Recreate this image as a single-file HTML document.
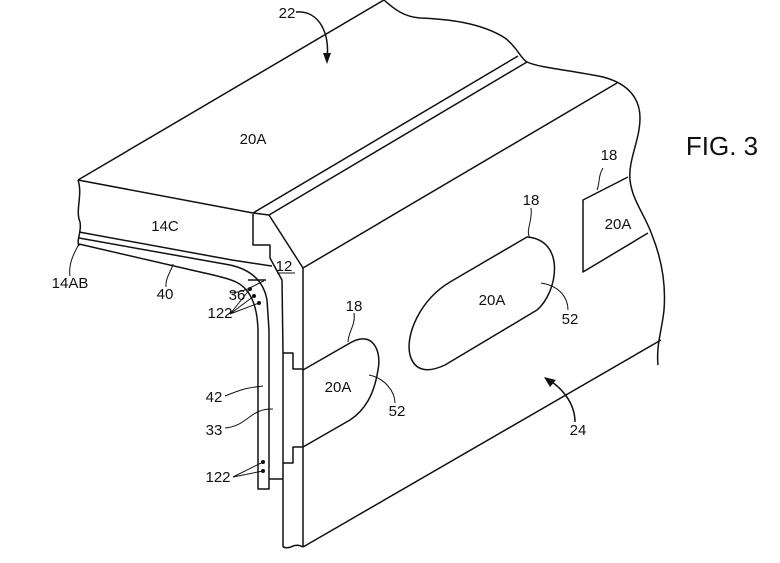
<!DOCTYPE html>
<html><head><meta charset="utf-8"><style>
html,body{margin:0;padding:0;background:#fff;}
svg{display:block}
text{font-family:"Liberation Sans",Arial,sans-serif;font-size:15px;fill:#111}
</style></head><body>
<svg width="780" height="563" viewBox="0 0 780 563" xmlns="http://www.w3.org/2000/svg">
<g fill="none" stroke="#111" stroke-width="1.5" stroke-linejoin="round">
<path d="M78,180 L384,0"/>
<path d="M384,0 C395,10 405,17 420,18 C445,19 480,22 505,38 C518,48 520,58 527,62 C540,68 570,70 603,77 C630,84 640,100 640,118 C640,140 628,160 630,180 C632,200 645,215 652,235 C662,260 666,285 664,310 C662,330 656,345 658,365"/>
<path d="M78,180 L253,213 L269,215 L303,268 L303,547"/>
<path d="M253,213 L518,56"/>
<path d="M269,215 L527,62"/>
<path d="M303,268 L617,83"/>
<path d="M303,547 L661,340"/>
<path d="M283,547 Q288,549 293,546 Q298,544 303,547"/>
<path d="M78,180 C83,195 75,210 80,222 C82,232 76,240 79,246"/>
<path d="M253,214 L253,245 L270,245 L270,258 L282,280 L283,353 L293,353 L293,369 L303,369"/>
<path d="M303,447 L293,447 L293,463 L283,463 L283,547"/>
<path d="M283,463 L283,353"/>
<path d="M269,479 L283,479"/>
<path d="M79,232 L232,260 Q258,264 272,266"/>
<path d="M79,238 L230,265 Q262,272 267,300 L269,330 L269,489 L258,489 L258,330 Q257,292 236,282 Q228,278 200,272 L79,244"/>
<path d="M248,280 L266,280"/>
<path d="M303,370 L350,343 C372,330 382,350 378,370 C374,395 365,410 350,420 L303,447"/>
<path d="M527,237 L450,282 C420,300 405,335 410,355 C415,373 430,372 445,365 L537,310 C558,292 566,240 527,237 Z"/>
<path d="M628,177 L583,200 L583,272 L648,233"/>
<path d="M296,12 C320,10 330,35 327,58"/>
<path d="M597,190 C600,183 598,176 603,168" stroke-width="1"/>
<path d="M531,208 C533,222 525,230 530,238" stroke-width="1"/>
<path d="M354,313 C356,325 348,332 348,342" stroke-width="1"/>
<path d="M541,283 C560,286 568,298 568,310" stroke-width="1"/>
<path d="M369,375 C385,378 395,392 395,403" stroke-width="1"/>
<path d="M575,422 C575,402 560,386 547,379"/>
<path d="M70,276 C68,262 76,250 79,244" stroke-width="1"/>
<path d="M166,287 C165,278 172,270 173,264" stroke-width="1"/>
<path d="M230,293 C248,292 255,284 264,281" stroke-width="1"/>
<path d="M230,314 L250,289 M230,314 L254,296 M230,314 L259,303" stroke-width="1"/>
<path d="M277,273 L295,273" stroke-width="1"/>
<path d="M225,396 C240,390 245,388 263,386" stroke-width="1"/>
<path d="M225,428 C248,426 250,408 273,409" stroke-width="1"/>
<path d="M233,477 L263,462 M233,477 L263,471" stroke-width="1"/>
</g>
<g fill="#111">
<path d="M327,64 L323,53 L331,53 Z"/>
<path d="M544,377 L556,380 L550,387 Z"/>
<circle cx="250" cy="289" r="2"/><circle cx="254" cy="296" r="2"/><circle cx="259" cy="303" r="2"/>
<circle cx="263" cy="462" r="2"/><circle cx="263" cy="471" r="2"/>
</g>
<g text-anchor="middle">
<text x="287" y="18">22</text>
<text x="253" y="144">20A</text>
<text x="722" y="155" style="font-size:26px">FIG. 3</text>
<text x="609" y="160">18</text>
<text x="618" y="229">20A</text>
<text x="531" y="205">18</text>
<text x="492" y="305">20A</text>
<text x="570" y="324">52</text>
<text x="165" y="231">14C</text>
<text x="70" y="288">14AB</text>
<text x="165" y="299">40</text>
<text x="284" y="271">12</text>
<text x="237" y="300">36</text>
<text x="220" y="318">122</text>
<text x="354" y="311">18</text>
<text x="338" y="392">20A</text>
<text x="397" y="416">52</text>
<text x="214" y="402">42</text>
<text x="214" y="435">33</text>
<text x="218" y="482">122</text>
<text x="578" y="435">24</text>
</g>
</svg>
</body></html>
